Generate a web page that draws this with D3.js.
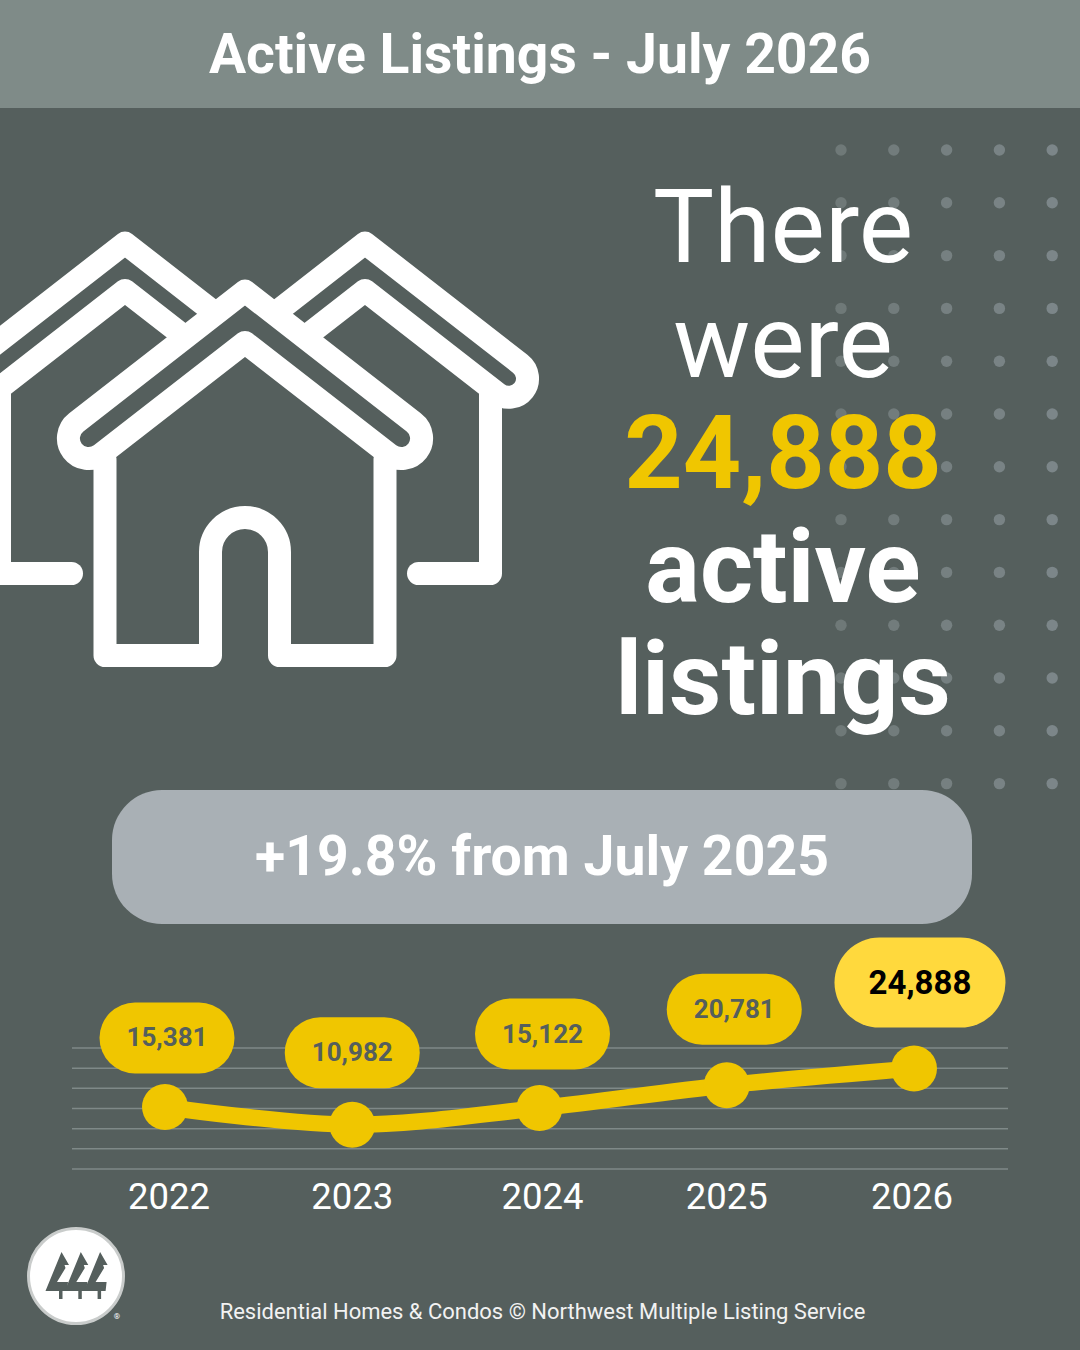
<!DOCTYPE html>
<html>
<head>
<meta charset="utf-8">
<title>Active Listings - July 2026</title>
<script src="https://d3js.org/d3.v7.min.js"></script>
<style>
html, body { margin: 0; padding: 0; background: #555f5d; }
svg { display: block; }
text { font-family: Roboto, sans-serif; }
</style>
</head>
<body>
<svg id="chart" width="1080" height="1350"></svg>
<script>
// data
var years = ["2022", "2023", "2024", "2025", "2026"];
var listings = [15381, 10982, 15122, 20781, 24888];
var gridTicks = [0, 5000, 10000, 15000, 20000, 25000, 30000];
var headlineLines = ["There", "were", "24,888", "active", "listings"];

// layout, labels are placed by hand in the original
var bg = "#555f5d", yellow = "#f0c600", brightYellow = "#ffd93d";
var pillDx = [2, 0, 3, 7.5, 6];
var pillDy = [-69, -72, -74, -76, -86];
var yearDx = [4, 0, 3, 0, -2];

var svg = d3.select("#chart");
svg.append("rect").attr("width", 1080).attr("height", 1350).attr("fill", bg);

// header band
svg.append("rect").attr("width", 1080).attr("height", 108).attr("fill", "#7f8b88");
svg.append("text").attr("x", 540).attr("y", 73).attr("text-anchor", "middle")
    .attr("font-size", 55.3).attr("font-weight", 700).attr("fill", "#fff")
    .text("Active Listings - July 2026");

// dot pattern behind the headline
var dotX = d3.range(5).map(function (i) { return 841 + i * 52.8; });
var dotY = d3.range(13).map(function (i) { return 150 + i * 52.8; });
var dotColor = d3.scaleLinear().domain([841, 1052]).range(["#6f7978", "#7c8689"]);
dotY.forEach(function (cy) {
    svg.append("g").selectAll("circle").data(dotX).enter().append("circle")
        .attr("cx", function (d) { return d; })
        .attr("cy", cy)
        .attr("r", 5.7)
        .attr("fill", function (d) { return dotColor(d); });
});

// houses
var icon = svg.append("g").attr("fill", bg).attr("stroke", "#fff")
    .attr("stroke-width", 23).attr("stroke-linejoin", "round").attr("stroke-linecap", "round");

function backHouse(g) {
    g.append("path").attr("fill", "none").attr("stroke-linecap", "butt")
        .attr("d", "M490.5,392 V573.5 H430");
    g.append("path").attr("fill", "none")
        .attr("d", "M418.5,573.5 H430");
    g.append("path")
        .attr("d", "M250,332.6 L365,243 L520.3,363.8 A18.7,18.7 0 0 1 497.3,393.4 L365,290.4 L280,356.5");
}
backHouse(icon.append("g"));
backHouse(icon.append("g").attr("transform", "translate(490,0) scale(-1,1)"));

// front house
icon.append("path").attr("fill", "none")
    .attr("d", "M105,460 V655.5 H210.5 V552 A34.5,34.5 0 0 1 279.5,552 V655.5 H385 V460");
icon.append("path")
    .attr("d", "M245,291 L76.3,422.4 A20.1,20.1 0 0 0 100.9,454.4 L245,342.4 L389.1,454.4 A20.1,20.1 0 0 0 413.7,422.4 Z");

// headline
var headY = [262, 376.5, 488, 602, 714];
svg.append("g").selectAll("text").data(headlineLines).enter().append("text")
    .attr("x", 783)
    .attr("y", function (d, i) { return headY[i]; })
    .attr("text-anchor", "middle")
    .attr("font-size", function (d, i) { return i < 2 ? 102.5 : 102; })
    .attr("font-weight", function (d, i) { return i < 2 ? 400 : 700; })
    .attr("fill", function (d, i) { return i == 2 ? yellow : "#fff"; })
    .text(function (d) { return d; });

// change banner
svg.append("rect").attr("x", 112).attr("y", 790).attr("width", 860).attr("height", 134)
    .attr("rx", 50).attr("fill", "#a9b0b5");
svg.append("text").attr("x", 542).attr("y", 875).attr("text-anchor", "middle")
    .attr("font-size", 55.4).attr("font-weight", 700).attr("fill", "#fff")
    .text("+19.8% from July 2025");

// chart
var x = d3.scalePoint().domain(years).range([165, 914]);
var y = d3.scaleLinear().domain([0, 30000]).range([1169, 1048]);

var grid = svg.append("g").attr("transform", "translate(72,-0.5)")
    .call(d3.axisLeft(y).tickValues(gridTicks).tickSize(-936).tickFormat(""));
grid.select(".domain").remove();
grid.selectAll("line").attr("stroke", "#7f8988").attr("stroke-width", 1.5);

var xAxis = svg.append("g").attr("transform", "translate(0,1169)")
    .call(d3.axisBottom(x).tickSize(0));
xAxis.select(".domain").remove();
xAxis.selectAll("text")
    .attr("y", 40)
    .attr("dx", function (d, i) { return yearDx[i] - 0.5; })
    .attr("dy", 0)
    .attr("font-family", "Roboto, sans-serif")
    .attr("font-size", 36.5)
    .attr("fill", "#fff");

var line = d3.line()
    .x(function (d, i) { return x(years[i]); })
    .y(function (d) { return y(d); })
    .curve(d3.curveCatmullRom);

svg.append("path").datum(listings).attr("d", line)
    .attr("fill", "none").attr("stroke", yellow).attr("stroke-width", 16.5);

svg.append("g").selectAll("circle").data(listings).enter().append("circle")
    .attr("cx", function (d, i) { return x(years[i]); })
    .attr("cy", function (d) { return y(d); })
    .attr("r", 23)
    .attr("fill", yellow);

// value pills
var pills = svg.append("g").selectAll("g").data(listings).enter().append("g")
    .attr("transform", function (d, i) {
        return "translate(" + (x(years[i]) + pillDx[i]) + "," + (y(d) + pillDy[i]) + ")";
    });
pills.append("rect")
    .attr("x", function (d, i) { return i == 4 ? -85.5 : -67.5; })
    .attr("y", function (d, i) { return i == 4 ? -45 : -35.5; })
    .attr("width", function (d, i) { return i == 4 ? 171 : 135; })
    .attr("height", function (d, i) { return i == 4 ? 90 : 71; })
    .attr("rx", function (d, i) { return i == 4 ? 45 : 35.5; })
    .attr("fill", function (d, i) { return i == 4 ? brightYellow : yellow; });
pills.append("text")
    .attr("text-anchor", "middle")
    .attr("y", function (d, i) { return i == 4 ? 11 : 8.5; })
    .attr("font-size", function (d, i) { return i == 4 ? 33 : 26; })
    .attr("font-weight", 700)
    .attr("fill", function (d, i) { return i == 4 ? "#000" : bg; })
    .text(function (d) { return d3.format(",")(d); });

// logo
svg.append("circle").attr("cx", 76).attr("cy", 1276).attr("r", 47.5)
    .attr("fill", "#fff").attr("stroke", "#c9cccb").attr("stroke-width", 3);
var tree = "M61.5,1252 L69,1265 L64.5,1265 L65.5,1268 L57,1282 L68,1282 L67,1291 L62.5,1291 L62.5,1299 L59,1299 L59,1291 L45.5,1291 Z";
[0, 19.3, 38.6].forEach(function (dx) {
    svg.append("path").attr("d", tree).attr("fill", bg)
        .attr("transform", "translate(" + dx + ",0)");
});
svg.append("text").attr("x", 117).attr("y", 1319).attr("text-anchor", "middle")
    .attr("font-size", 8).attr("fill", "#fff").text("®");

// footer
svg.append("text").attr("x", 542.5).attr("y", 1319).attr("text-anchor", "middle")
    .attr("font-size", 21.97).attr("fill", "#f2f2f2")
    .text("Residential Homes & Condos © Northwest Multiple Listing Service");
</script>
</body>
</html>
